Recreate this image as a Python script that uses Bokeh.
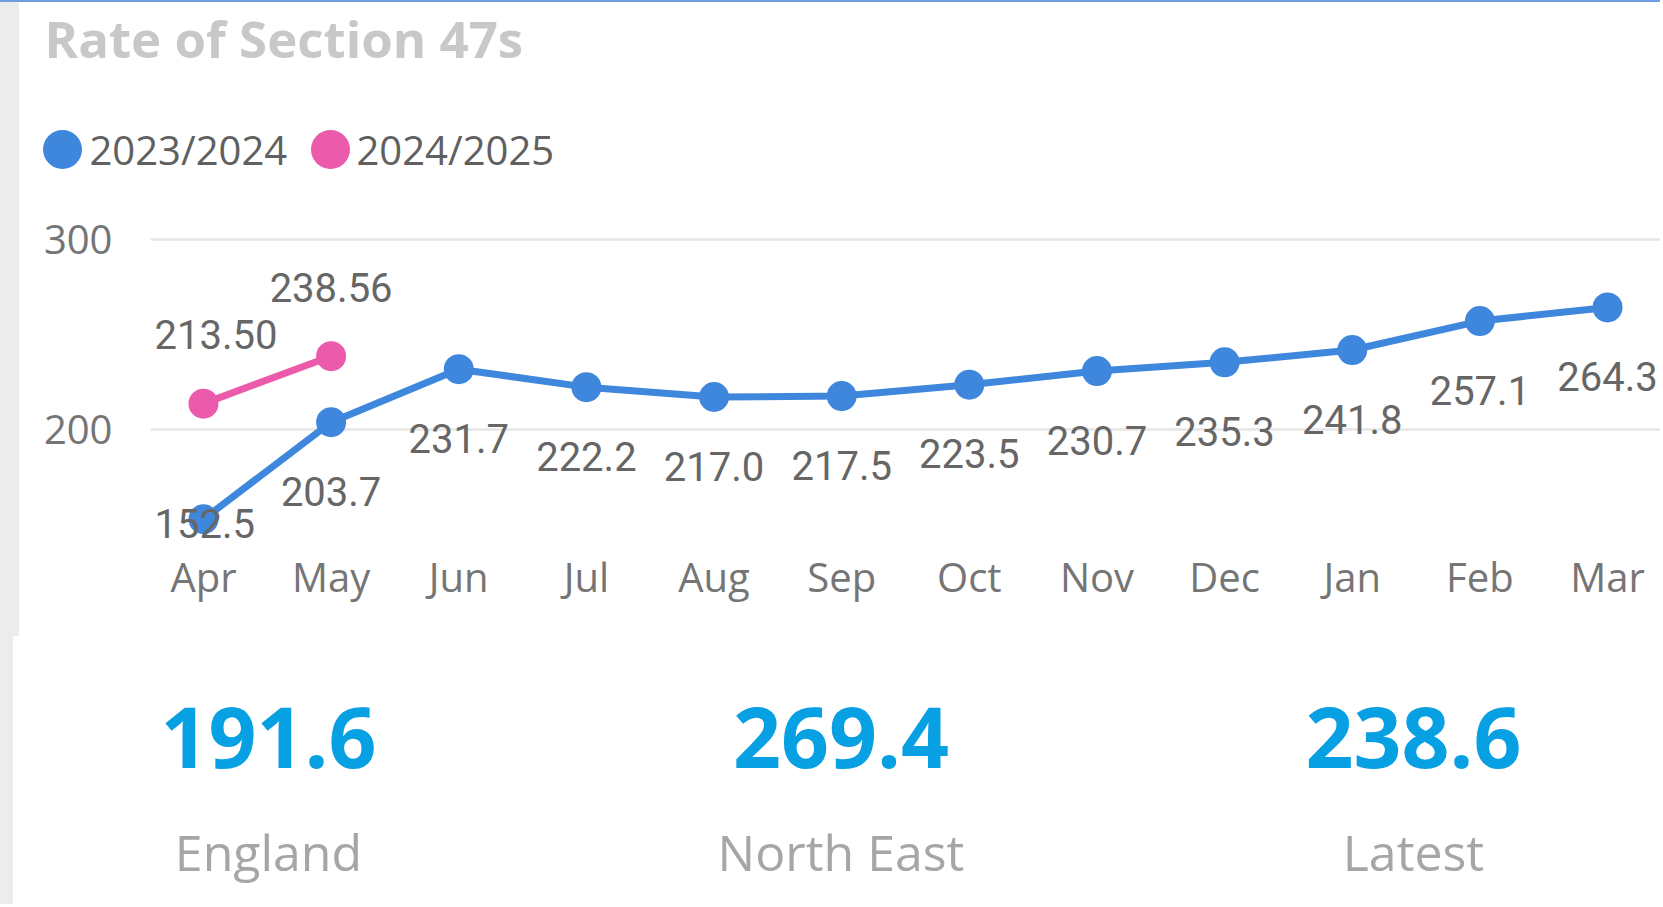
from bokeh.plotting import figure
from bokeh.models import ColumnDataSource, Range1d, FixedTicker, Div
from bokeh.layouts import row, column
from bokeh.core.properties import value
from bokeh.embed import file_html
from bokeh.resources import INLINE

# ---------------- data ----------------
title_text = "Rate of Section 47s"
months = ["Apr", "May", "Jun", "Jul", "Aug", "Sep", "Oct", "Nov", "Dec", "Jan", "Feb", "Mar"]
series_names = ["2023/2024", "2024/2025"]
rate_2324 = [152.5, 203.7, 231.7, 222.2, 217.0, 217.5, 223.5, 230.7, 235.3, 241.8, 257.1, 264.3]
rate_2425 = [213.50, 238.56]
y_ticks = [200, 300]
kpi_values = [191.6, 269.4, 238.6]
kpi_labels = ["England", "North East", "Latest"]

# ---------------- style ----------------
BLUE = "#3f87dd"
PINK = "#eb5aab"
SERIES_COLORS = [BLUE, PINK]
STRIP = "#ececec"
TOTAL_W = 1660
STRIP_W = 19
W = TOTAL_W - STRIP_W
LINE_H = 2
HEAD_H = 198
CHART_H, KPI_H = 428, 276
FRAME_L, FRAME_T, FRAME_B = 131, 15, 88
X0, X1 = -0.415, 11.415
Y0, Y1 = 141.24, 312.83
FRAME_H = CHART_H - FRAME_T - FRAME_B

sx = (W - FRAME_L) / (X1 - X0)
sy = FRAME_H / (Y1 - Y0)


def half_w(t):
    return sum(22.5 if c.isdigit() else 10.5 for c in t) / 2


def x_off(x, t):
    left_room = (x - X0) * sx
    right_room = (X1 - x) * sx
    hw = half_w(t)
    if hw + 4 > left_room:
        return hw + 4 - left_room
    if hw > right_room:
        return right_room - hw
    return 0.0


def box(w, h, color):
    return Div(text="", width=w, height=h, margin=(0, 0, 0, 0),
               styles={"background-color": color})


# ---------------- header: title + legend ----------------
head = figure(width=W, height=HEAD_H, x_range=Range1d(0, W), y_range=Range1d(0, HEAD_H),
              x_axis_type=None, y_axis_type=None, output_backend="svg",
              toolbar_location=None, min_border=0)
head.outline_line_color = None
head.grid.visible = False
head.text(x=[25], y=[163], text=[title_text], text_font=value("Open Sans"),
          text_font_size="51px", text_font_style="bold", text_color="#c8c8c8",
          text_baseline="middle", text_align="left")
head.scatter(x=[43, 311], y=[51, 51], size=39, color=SERIES_COLORS, line_color=None)
head.text(x=[70, 337], y=[51, 51], text=series_names, text_font=value("Open Sans"),
          text_font_size="40px", text_color="#606060", text_baseline="middle",
          text_align="left")

# ---------------- line chart ----------------
p = figure(width=W, height=CHART_H, x_range=Range1d(X0, X1), y_range=Range1d(Y0, Y1),
           output_backend="svg", toolbar_location=None,
           min_border_left=FRAME_L, min_border_right=0, min_border_top=FRAME_T,
           min_border_bottom=FRAME_B)
p.outline_line_color = None
p.xgrid.visible = False
p.ygrid.ticker = FixedTicker(ticks=y_ticks)
p.ygrid.grid_line_color = "#e6e6e6"
p.ygrid.grid_line_width = 2.5
p.yaxis.ticker = FixedTicker(ticks=y_ticks)
p.xaxis.ticker = FixedTicker(ticks=list(range(len(months))))
p.xaxis.major_label_overrides = {i: m for i, m in enumerate(months)}
for ax in (p.xaxis, p.yaxis):
    ax.axis_line_color = None
    ax.major_tick_line_color = None
    ax.minor_tick_line_color = None
    ax.major_tick_out = 0
    ax.major_tick_in = 0
    ax.major_label_text_font = "Open Sans"
    ax.major_label_text_font_size = "40px"
    ax.major_label_text_color = "#757575"
p.yaxis.major_label_standoff = 38
p.xaxis.major_label_standoff = 8

xa = list(range(len(rate_2324)))
la = [f"{v:.1f}" for v in rate_2324]
src_a = ColumnDataSource(dict(
    x=xa, y=rate_2324, label=la,
    xo=[x_off(x, t) for x, t in zip(xa, la)],
    yo=[min(69.0, (v - Y0) * sy - 17) for v in rate_2324],
))
xb = list(range(len(rate_2425)))
lb = [f"{v:.2f}" for v in rate_2425]
src_b = ColumnDataSource(dict(
    x=xb, y=rate_2425, label=lb,
    xo=[x_off(x, t) for x, t in zip(xb, lb)],
    yo=[-69.0 for _ in rate_2425],
))

p.line("x", "y", source=src_a, color=BLUE, line_width=7)
p.scatter("x", "y", source=src_a, size=30, color=BLUE, line_color=None)
p.line("x", "y", source=src_b, color=PINK, line_width=7)
p.scatter("x", "y", source=src_b, size=30, color=PINK, line_color=None)
for src in (src_a, src_b):
    p.text("x", "y", text="label", x_offset="xo", y_offset="yo", source=src,
           text_align="center", text_baseline="middle", text_font=value("Roboto"),
           text_font_size="40px", text_color="#666666")

# ---------------- KPI cards ----------------
kpi = figure(width=W, height=KPI_H, x_range=Range1d(-0.2061, 2.4315), y_range=Range1d(0, KPI_H),
             x_axis_type=None, y_axis_type=None, output_backend="svg", toolbar_location=None,
             min_border_left=FRAME_L, min_border_right=0, min_border_top=0, min_border_bottom=0)
kpi.outline_line_color = None
kpi.grid.visible = False
kx = list(range(len(kpi_values)))
kpi.text(x=kx, y=[167] * len(kx), text=[f"{v:.1f}" for v in kpi_values], text_align="center",
         text_baseline="middle", text_font=value("Open Sans"), text_font_size="84px",
         text_font_style="bold", text_color="#07a0e3")
kpi.text(x=kx, y=[53] * len(kx), text=kpi_labels, text_align="center",
         text_baseline="middle", text_font=value("Open Sans"), text_font_size="50px",
         text_color="#a6a6a6")

# ---------------- page ----------------
top_part = column(box(TOTAL_W, LINE_H, "#6d9de0"),
                  row(box(STRIP_W, HEAD_H, STRIP), head, spacing=0), spacing=0)
bottom_part = row(column(box(STRIP_W, 636 - LINE_H - HEAD_H, STRIP),
                         box(13, CHART_H + KPI_H - (636 - LINE_H - HEAD_H), STRIP), spacing=0),
                  column(p, kpi, spacing=0), spacing=0)

open("out.html", "w").write(file_html([top_part, bottom_part], INLINE))
